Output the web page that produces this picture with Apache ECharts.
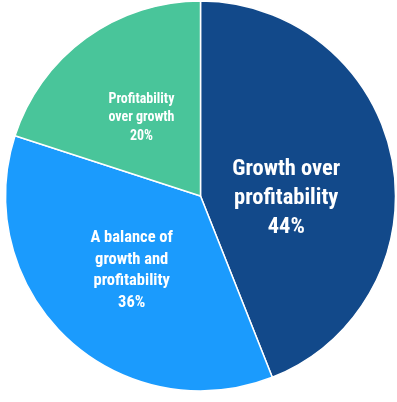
<!DOCTYPE html>
<html><head><meta charset="utf-8">
<script src="https://cdn.jsdelivr.net/npm/echarts@6/dist/echarts.min.js"></script>
<style>html,body{margin:0;padding:0;background:#fff}#c{width:397px;height:402px}</style>
</head><body><div id="c"></div>
<script>
const categories = ['Growth over\nprofitability', 'A balance of\ngrowth and\nprofitability', 'Profitability\nover growth'];
const values = [44, 36, 20];
const colors = ['#12498a', '#1b9bfd', '#49c59a'];
const fontSizes = [22.5, 16.5, 14];
const lineHeights = [29, 21.5, 18.5];
const offsets = [[-13, 21], [0, 1], [0, 3]];

const FONT = "'Roboto Condensed', 'Liberation Sans Narrow', 'DejaVu Sans Condensed', Roboto, sans-serif";
const chart = echarts.init(document.getElementById('c'), null, {renderer: 'canvas'});
chart.setOption({
  animation: false,
  series: [{
    type: 'pie',
    center: [200.5, 196],
    radius: [0, 195],
    startAngle: 90,
    clockwise: true,
    avoidLabelOverlap: false,
    itemStyle: {borderColor: '#ffffff', borderWidth: 1.5},
    label: {
      show: true,
      position: 'inside',
      color: '#ffffff',
      fontWeight: 'bold',
      fontFamily: FONT,
      align: 'center',
      formatter: p => p.name + '\n' + p.value + '%'
    },
    labelLine: {show: false},
    emphasis: {disabled: true},
    data: categories.map((n, i) => ({
      name: n,
      value: values[i],
      itemStyle: {color: colors[i]},
      label: {fontSize: fontSizes[i], lineHeight: lineHeights[i], offset: offsets[i]}
    }))
  }]
});
</script></body></html>
